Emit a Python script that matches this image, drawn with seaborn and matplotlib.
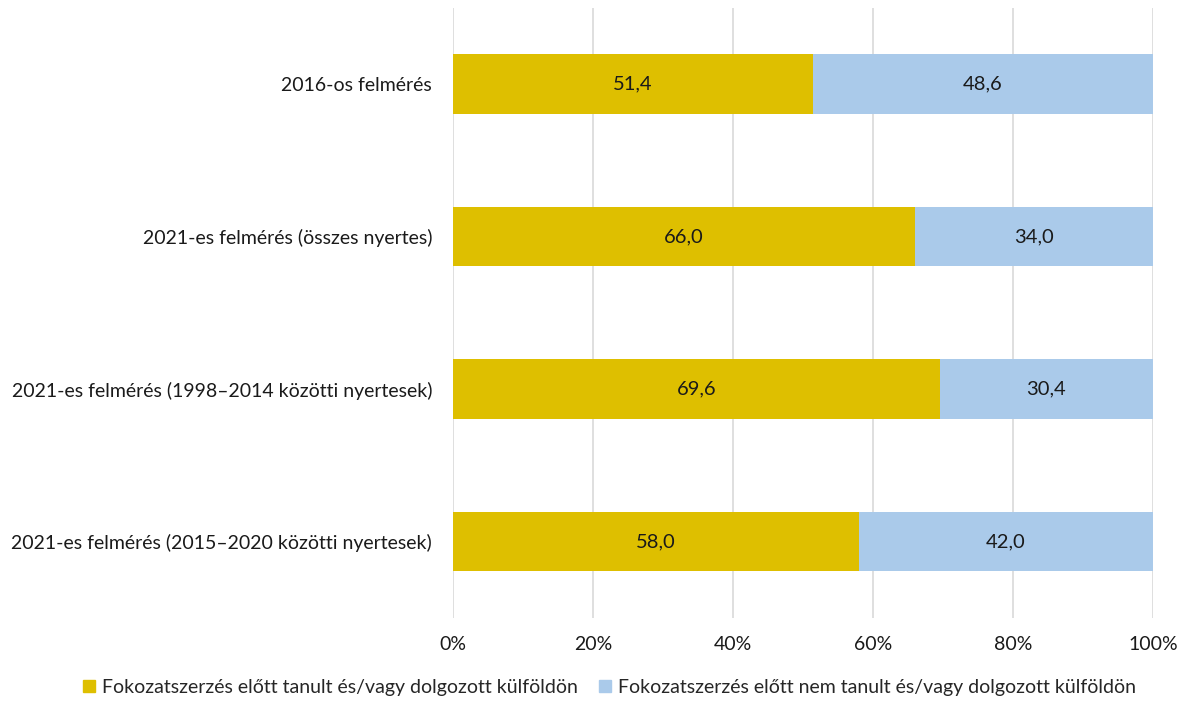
import matplotlib
matplotlib.use("Agg")
import matplotlib.pyplot as plt
import pandas as pd
import seaborn as sns
from matplotlib.patches import Patch

# data
categories = [
    "2016-os felmérés",
    "2021-es felmérés (összes nyertes)",
    "2021-es felmérés (1998–2014 közötti nyertesek)",
    "2021-es felmérés (2015–2020 közötti nyertesek)",
]
abroad = [51.4, 66.0, 69.6, 58.0]
not_abroad = [48.6, 34.0, 30.4, 42.0]
series_names = [
    "Fokozatszerzés előtt tanult és/vagy dolgozott külföldön",
    "Fokozatszerzés előtt nem tanult és/vagy dolgozott külföldön",
]
xticks = [0, 20, 40, 60, 80, 100]

gold = "#DEBF00"
blue = "#AACAEA"

sns.set_style("white")
plt.rcParams["font.family"] = ["Lato", "DejaVu Sans"]

df = pd.DataFrame({"cat": categories, "abroad": abroad, "not_abroad": not_abroad})
df["total"] = df["abroad"] + df["not_abroad"]

fig = plt.figure(figsize=(11.86, 7.06), dpi=100)
ax = fig.add_axes([0.382, 0.125, 0.590, 0.864])

# stacked bars: total first (blue), gold part over it
sns.barplot(data=df, x="total", y="cat", color=blue, width=0.39,
            saturation=1, linewidth=0, ax=ax, zorder=2)
sns.barplot(data=df, x="abroad", y="cat", color=gold, width=0.39,
            saturation=1, linewidth=0, ax=ax, zorder=3)

# value labels, centred in each segment
for i, row in df.iterrows():
    ax.text(row["abroad"] / 2, i, f"{row['abroad']:.1f}".replace(".", ","),
            ha="center", va="center", fontsize=14.5, color="#1a1a1a", zorder=4)
    ax.text(row["abroad"] + row["not_abroad"] / 2, i,
            f"{row['not_abroad']:.1f}".replace(".", ","),
            ha="center", va="center", fontsize=14.5, color="#1a1a1a", zorder=4)

ax.set_xlim(0, 100)
ax.set_ylim(3.5, -0.5)
ax.set_xticks(xticks)
ax.set_xticklabels([f"{t}%" for t in xticks])
ax.xaxis.grid(True, color="#d9d9d9", linewidth=1.2, zorder=0)
ax.set_axisbelow(True)
ax.set_xlabel("")
ax.set_ylabel("")
ax.tick_params(axis="both", length=0, labelsize=14, colors="#1a1a1a")
ax.tick_params(axis="x", pad=13)
ax.tick_params(axis="y", pad=15)
for s in ax.spines.values():
    s.set_visible(False)

handles = [Patch(color=gold), Patch(color=blue)]
fig.legend(handles, series_names, loc="lower center", ncol=2,
           bbox_to_anchor=(0.514, -0.01), frameon=False, fontsize=14,
           handlelength=0.6, handleheight=0.6, handletextpad=0.35,
           columnspacing=1.1)

fig.savefig("out.png", dpi=100)
